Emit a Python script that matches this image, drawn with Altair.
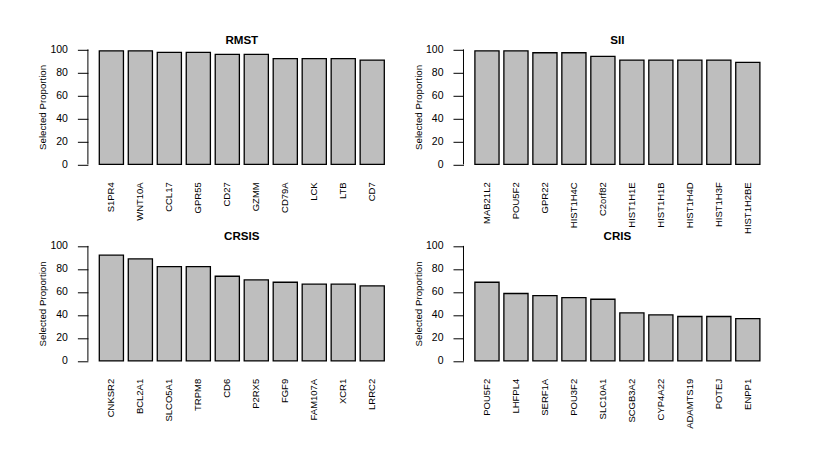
import altair as alt
import pandas as pd

# ---- data ----
rmst_genes = ["S1PR4", "WNT10A", "CCL17", "GPR55", "CD27", "GZMM", "CD79A", "LCK", "LTB", "CD7"]
rmst_vals = [98.8, 98.8, 97.4, 97.4, 95.7, 95.7, 91.9, 91.9, 91.9, 90.7]

sii_genes = ["MAB21L2", "POU5F2", "GPR22", "HIST1H4C", "C2orf82", "HIST1H1E", "HIST1H1B", "HIST1H4D", "HIST1H3F", "HIST1H2BE"]
sii_vals = [98.8, 98.8, 97.1, 97.1, 93.9, 90.7, 90.7, 90.7, 90.7, 88.7]

crsis_genes = ["CNKSR2", "BCL2A1", "SLCO5A1", "TRPM8", "CD6", "P2RX5", "FGF9", "FAM107A", "XCR1", "LRRC2"]
crsis_vals = [91.9, 88.7, 82.0, 82.0, 73.6, 70.4, 68.4, 66.7, 66.7, 65.2]

cris_genes = ["POU5F2", "LHFPL4", "SERF1A", "POU3F2", "SLC10A1", "SCGB3A2", "CYP4A22", "ADAMTS19", "POTEJ", "ENPP1"]
cris_vals = [68.4, 58.6, 56.8, 55.1, 53.6, 41.7, 40.0, 38.6, 38.6, 36.8]

y_ticks = [0, 20, 40, 60, 80, 100]

FONT = "Liberation Sans"
W, H = 307.8, 124.2


def panel(title, genes, vals):
    df = pd.DataFrame({"gene": genes, "value": vals})
    yscale = alt.Scale(domain=[-4, 104], nice=False, zero=False)
    yaxis = alt.Axis(
        values=y_ticks, grid=False, domain=False, tickSize=10.5,
        tickColor="black", tickWidth=1, labelPadding=10,
        labelFont=FONT, labelFontSize=10.5, labelColor="black",
        labelAngle=0, titleFont=FONT, titleFontSize=9.7,
        titleFontWeight="normal", titleColor="black",
        titleAngle=270, titleX=-40, titleY=H / 2,
        titleBaseline="bottom", titleAlign="center",
    )
    bars = alt.Chart(df).mark_bar(
        fill="#bebebe", stroke="black", strokeWidth=1.3
    ).encode(
        x=alt.X(
            "gene:N", sort=None, title=None,
            scale=alt.Scale(paddingInner=0.2 / 1.2, paddingOuter=0.3933),
            axis=alt.Axis(
                labelAngle=270, domain=False, ticks=False, tickSize=0,
                labelPadding=12.8, labelFont=FONT, labelFontSize=9.5,
                labelColor="black", labelOverlap=False,
            ),
        ),
        y=alt.Y("value:Q", scale=yscale, title="Selected Proportion", axis=yaxis),
    )
    axis_line = alt.Chart(
        pd.DataFrame({"lo": [y_ticks[0]], "hi": [y_ticks[-1]]})
    ).mark_rule(color="black", strokeWidth=1).encode(
        x=alt.value(0),
        y=alt.Y("lo:Q", scale=yscale, title="Selected Proportion", axis=yaxis),
        y2="hi:Q",
    )
    return alt.layer(bars, axis_line).properties(
        width=W, height=H,
        title=alt.TitleParams(
            title, font=FONT, fontSize=11.6, fontWeight="bold",
            color="black", anchor="middle", frame="group", offset=-11,
            baseline="alphabetic",
        ),
    )


chart = alt.concat(
    panel("RMST", rmst_genes, rmst_vals),
    panel("SII", sii_genes, sii_vals),
    panel("CRSIS", crsis_genes, crsis_vals),
    panel("CRIS", cris_genes, cris_vals),
    columns=2,
    spacing={"row": 71.5, "column": 67.6},
).properties(
    bounds="flush",
    padding={"left": 28.9, "top": 26.8, "right": 0, "bottom": 0},
    background="white",
).configure_view(stroke=None)

chart.save("out.html", embed_options={"renderer": "svg", "actions": False})
